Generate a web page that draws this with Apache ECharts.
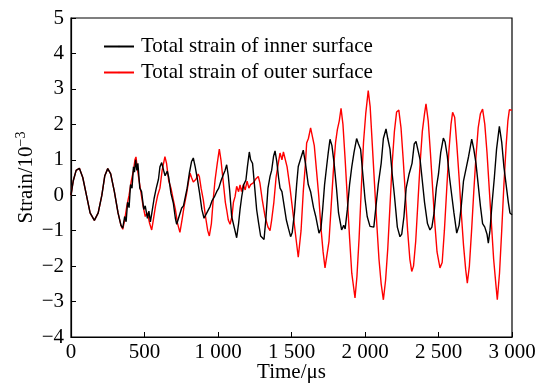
<!DOCTYPE html>
<html>
<head>
<meta charset="utf-8">
<script src="https://cdn.jsdelivr.net/npm/echarts@6/dist/echarts.min.js"></script>
<style>
  html, body { margin: 0; padding: 0; background: #fff; }
  #chart { width: 539px; height: 385px; }
</style>
</head>
<body>
<div id="chart"></div>
<script>
// legend names
const seriesNames = ["Total strain of inner surface", "Total strain of outer surface"];

// shared start (both gauges read the same up to ~350 µs)
const startPoints = [
  [0, 0], [15, 0.4], [35, 0.7], [57, 0.76], [80, 0.5], [105, 0], [130, -0.5],
  [159, -0.71], [185, -0.5], [210, 0], [230, 0.55], [250, 0.75], [270, 0.6],
  [295, 0.1], [320, -0.5], [340, -0.85]
];

// inner surface [time µs, strain 1e-3]
const innerPoints = [
  [352, -0.93], [365, -0.6], [375, -0.75], [385, -0.2], [395, -0.35], [405, 0.3],
  [415, 0.2], [425, 0.8], [432, 0.65], [440, 1.0], [448, 0.7], [455, 0.9],
  [468, 0.2], [480, 0.1], [495, -0.4], [505, -0.3], [520, -0.65], [530, -0.45],
  [540, -0.75], [550, -0.5], [565, -0.1], [580, 0.2], [595, 0.45], [605, 0.8],
  [617, 0.92], [630, 0.7], [640, 0.55], [655, 0.68], [665, 0.5], [680, 0.05],
  [696, -0.22], [710, -0.65], [719, -0.82], [735, -0.6], [753, -0.36], [765, -0.3],
  [776, -0.3], [790, 0.2], [805, 0.62], [820, 0.95], [832, 1.05], [845, 0.8],
  [860, 0.45], [875, 0.05], [890, -0.4], [905, -0.65], [915, -0.62], [930, -0.45],
  [946, -0.32], [960, -0.15], [975, -0.05], [991, 0.1], [1005, 0.2], [1020, 0.4],
  [1036, 0.58], [1048, 0.7], [1059, 0.86], [1070, 0.55], [1080, 0.1], [1093, -0.6],
  [1110, -0.9], [1127, -1.2], [1140, -0.8], [1150, -0.4], [1161, -0.05], [1175, 0.3],
  [1190, 0.43], [1200, 0.8], [1213, 1.22], [1222, 1.0], [1235, 0.9], [1250, 0.2],
  [1263, -0.41], [1275, -0.75], [1290, -1.15], [1300, -1.1], [1313, -1.25], [1325, -0.7],
  [1340, 0.2], [1354, 0.53], [1365, 0.7], [1378, 1.1], [1388, 1.25], [1400, 0.95],
  [1412, 0.5], [1422, 0.2], [1435, 0.1], [1450, -0.3], [1465, -0.7], [1480, -0.95],
  [1494, -1.17], [1505, -1.05], [1520, -0.5], [1535, 0.3], [1546, 0.81], [1560, 1.0],
  [1580, 1.27], [1595, 0.9], [1614, 0.3], [1630, 0.1], [1650, -0.35], [1665, -0.6],
  [1687, -1.07], [1700, -0.95], [1712, -0.4], [1725, 0.3], [1739, 0.81], [1750, 1.2],
  [1762, 1.58], [1775, 1.4], [1790, 0.9], [1807, 0.15], [1820, -0.5], [1841, -0.98],
  [1855, -0.85], [1865, -0.95], [1880, -0.4], [1895, 0.3], [1910, 0.8], [1925, 1.2],
  [1943, 1.6], [1955, 1.45], [1970, 1.3], [1985, 0.6], [2000, -0.1], [2015, -0.6],
  [2034, -0.88], [2045, -0.85], [2060, -0.9], [2075, -0.3], [2090, 0.3], [2110, 0.9],
  [2125, 1.6], [2143, 1.87], [2155, 1.6], [2170, 1.3], [2185, 0.6], [2200, 0.0],
  [2220, -0.9], [2238, -1.17], [2250, -1.1], [2265, -0.6], [2280, 0.2], [2300, 0.6],
  [2320, 0.9], [2335, 1.45], [2347, 1.52], [2360, 1.48], [2375, 1.0], [2390, 0.4],
  [2405, -0.2], [2425, -0.8], [2442, -0.98], [2455, -0.9], [2470, -0.5], [2485, 0.2],
  [2500, 0.6], [2515, 1.2], [2533, 1.61], [2545, 1.5], [2560, 1.1], [2575, 0.5],
  [2590, 0.0], [2605, -0.5], [2624, -1.07], [2640, -0.85], [2655, -0.3], [2670, 0.4],
  [2690, 0.8], [2705, 1.1], [2726, 1.58], [2740, 1.3], [2755, 0.9], [2770, 0.3],
  [2785, -0.3], [2800, -0.8], [2815, -0.9], [2830, -1.1], [2839, -1.35], [2850, -1.0],
  [2865, -0.2], [2880, 0.5], [2895, 1.3], [2914, 1.94], [2930, 1.5], [2945, 0.8],
  [2960, 0.3], [2975, -0.2], [2986, -0.5], [3000, -0.55]
];

// outer surface [time µs, strain 1e-3]
const outerPoints = [
  [352, -0.96], [365, -0.7], [380, -0.3], [395, 0.0], [410, 0.4], [425, 0.7],
  [435, 1.0], [442, 1.08], [450, 0.8], [460, 0.5], [475, 0.1], [490, -0.3],
  [505, -0.6], [520, -0.5], [535, -0.8], [549, -0.98], [560, -0.7], [575, -0.3],
  [590, 0.0], [605, 0.2], [620, 0.7], [639, 1.09], [650, 0.9], [665, 0.4],
  [680, 0.2], [696, -0.13], [710, -0.4], [725, -0.8], [741, -1.05], [755, -0.7],
  [770, -0.3], [787, 0.06], [800, 0.4], [810, 0.62], [820, 0.5], [832, 0.37],
  [850, 0.45], [865, 0.6], [873, 0.53], [885, 0.2], [900, -0.13], [915, -0.6],
  [930, -1.0], [941, -1.15], [955, -0.8], [968, -0.1], [980, 0.43], [995, 0.9],
  [1009, 1.3], [1020, 1.0], [1035, 0.4], [1050, -0.2], [1059, -0.41], [1070, -0.7],
  [1082, -0.82], [1095, -0.6], [1105, -0.2], [1116, -0.04], [1127, 0.25], [1140, 0.1],
  [1150, 0.29], [1160, 0.1], [1172, 0.3], [1185, 0.15], [1198, 0.4], [1210, 0.2],
  [1222, 0.3], [1240, 0.35], [1255, 0.45], [1265, 0.5], [1274, 0.53], [1285, 0.35],
  [1300, -0.1], [1320, -0.6], [1340, -0.9], [1354, -1.0], [1365, -0.7], [1380, -0.2],
  [1395, 0.5], [1410, 0.9], [1422, 1.19], [1435, 1.0], [1445, 1.22], [1456, 1.2],
  [1470, 0.8], [1490, 0.2], [1510, -0.5], [1530, -1.2], [1546, -1.75], [1555, -1.78],
  [1565, -1.0], [1580, 0.1], [1595, 0.9], [1603, 1.47], [1615, 1.6], [1630, 1.9],
  [1640, 1.94], [1655, 1.4], [1670, 0.7], [1685, 0.0], [1700, -0.9], [1715, -1.6],
  [1728, -2.05], [1740, -2.0], [1755, -1.3], [1770, -0.3], [1785, 0.7], [1800, 1.5],
  [1812, 1.85], [1825, 2.1], [1837, 2.45], [1850, 2.0], [1865, 1.0], [1880, -0.1],
  [1895, -1.2], [1910, -2.2], [1932, -2.9], [1945, -2.3], [1960, -1.2], [1975, 0.2],
  [1990, 1.5], [2005, 2.3], [2022, 2.95], [2035, 2.5], [2050, 1.4], [2065, 0.3],
  [2080, -0.8], [2095, -1.8], [2110, -2.5], [2125, -2.95], [2140, -2.4], [2155, -1.5],
  [2170, -0.3], [2185, 0.9], [2200, 1.8], [2215, 2.35], [2230, 2.4], [2245, 1.9],
  [2260, 1.0], [2275, 0.0], [2290, -1.0], [2305, -1.8], [2318, -2.15], [2330, -2.0],
  [2345, -1.3], [2360, -0.2], [2375, 0.9], [2390, 1.8], [2405, 2.3], [2415, 2.58],
  [2430, 2.1], [2445, 1.2], [2460, 0.2], [2475, -0.8], [2490, -1.6], [2510, -2.05],
  [2525, -1.9], [2540, -1.0], [2555, 0.1], [2570, 1.2], [2585, 2.0], [2596, 2.34],
  [2610, 2.2], [2625, 1.4], [2640, 0.5], [2655, -0.5], [2670, -1.4], [2685, -2.1],
  [2696, -2.48], [2710, -2.0], [2725, -1.0], [2740, 0.1], [2755, 1.1], [2770, 1.9],
  [2785, 2.3], [2800, 2.43], [2815, 2.0], [2830, 1.2], [2845, 0.2], [2860, -0.8],
  [2875, -1.8], [2890, -2.5], [2900, -2.95], [2915, -2.2], [2930, -1.0], [2945, 0.3],
  [2960, 1.4], [2972, 2.1], [2982, 2.41], [2990, 2.45], [3000, 2.4]
];

const FONT = "Liberation Serif";
const FS = 21;

let chart = echarts.init(document.getElementById("chart"));

let option = {
  animation: false,
  textStyle: { fontFamily: FONT },
  grid: {
    left: 71,
    right: 27,
    top: 18,
    bottom: 48,
    outerBoundsMode: "none",
    containLabel: false,
    show: true,
    borderColor: "#000",
    borderWidth: 1.2,
    backgroundColor: "transparent"
  },
  legend: {
    orient: "vertical",
    left: 98,
    top: 31,
    itemWidth: 30,
    itemHeight: 2,
    itemGap: 5,
    textStyle: { fontFamily: FONT, fontSize: FS, color: "#000", padding: [0, 0, 0, 2] },
    data: seriesNames
  },
  xAxis: {
    type: "value",
    min: 0,
    max: 3000,
    interval: 500,
    name: "Time/μs",
    nameLocation: "middle",
    nameGap: 25,
    nameMoveOverlap: false,
    nameTextStyle: { fontFamily: FONT, fontSize: FS, color: "#000" },
    axisLine: { onZero: false, lineStyle: { color: "#000", width: 1.2 } },
    axisTick: { inside: true, length: 5, lineStyle: { color: "#000" } },
    axisLabel: {
      fontFamily: FONT,
      fontSize: FS,
      color: "#000",
      margin: 5,
      formatter: function (v) {
        return v >= 1000 ? Math.floor(v / 1000) + " " + String(v % 1000).padStart(3, "0") : String(v);
      }
    },
    splitLine: { show: false }
  },
  yAxis: {
    type: "value",
    min: -4,
    max: 5,
    interval: 1,
    name: "Strain/10{sup|−3}",
    nameLocation: "middle",
    nameRotate: 90,
    nameGap: 33,
    nameMoveOverlap: false,
    nameTextStyle: {
      fontFamily: FONT,
      fontSize: FS,
      color: "#000",
      rich: {
        sup: { fontFamily: FONT, fontSize: 14, color: "#000", verticalAlign: "top", padding: [0, 0, 10, 0] }
      }
    },
    axisLine: { onZero: false, lineStyle: { color: "#000", width: 1.2 } },
    axisTick: { inside: true, length: 5, lineStyle: { color: "#000" } },
    axisLabel: {
      fontFamily: FONT,
      fontSize: FS,
      color: "#000",
      margin: 7,
      formatter: function (v) {
        return String(v).replace("-", "−");
      }
    },
    splitLine: { show: false }
  },
  series: [
    {
      name: seriesNames[0],
      type: "line",
      symbol: "none",
      z: 3,
      lineStyle: { color: "#000", width: 1.4 },
      itemStyle: { color: "#000" },
      data: startPoints.concat(innerPoints)
    },
    {
      name: seriesNames[1],
      type: "line",
      symbol: "none",
      z: 2,
      lineStyle: { color: "#ff0000", width: 1.4 },
      itemStyle: { color: "#ff0000" },
      data: startPoints.concat(outerPoints)
    }
  ]
};

chart.setOption(option);
</script>
</body>
</html>
